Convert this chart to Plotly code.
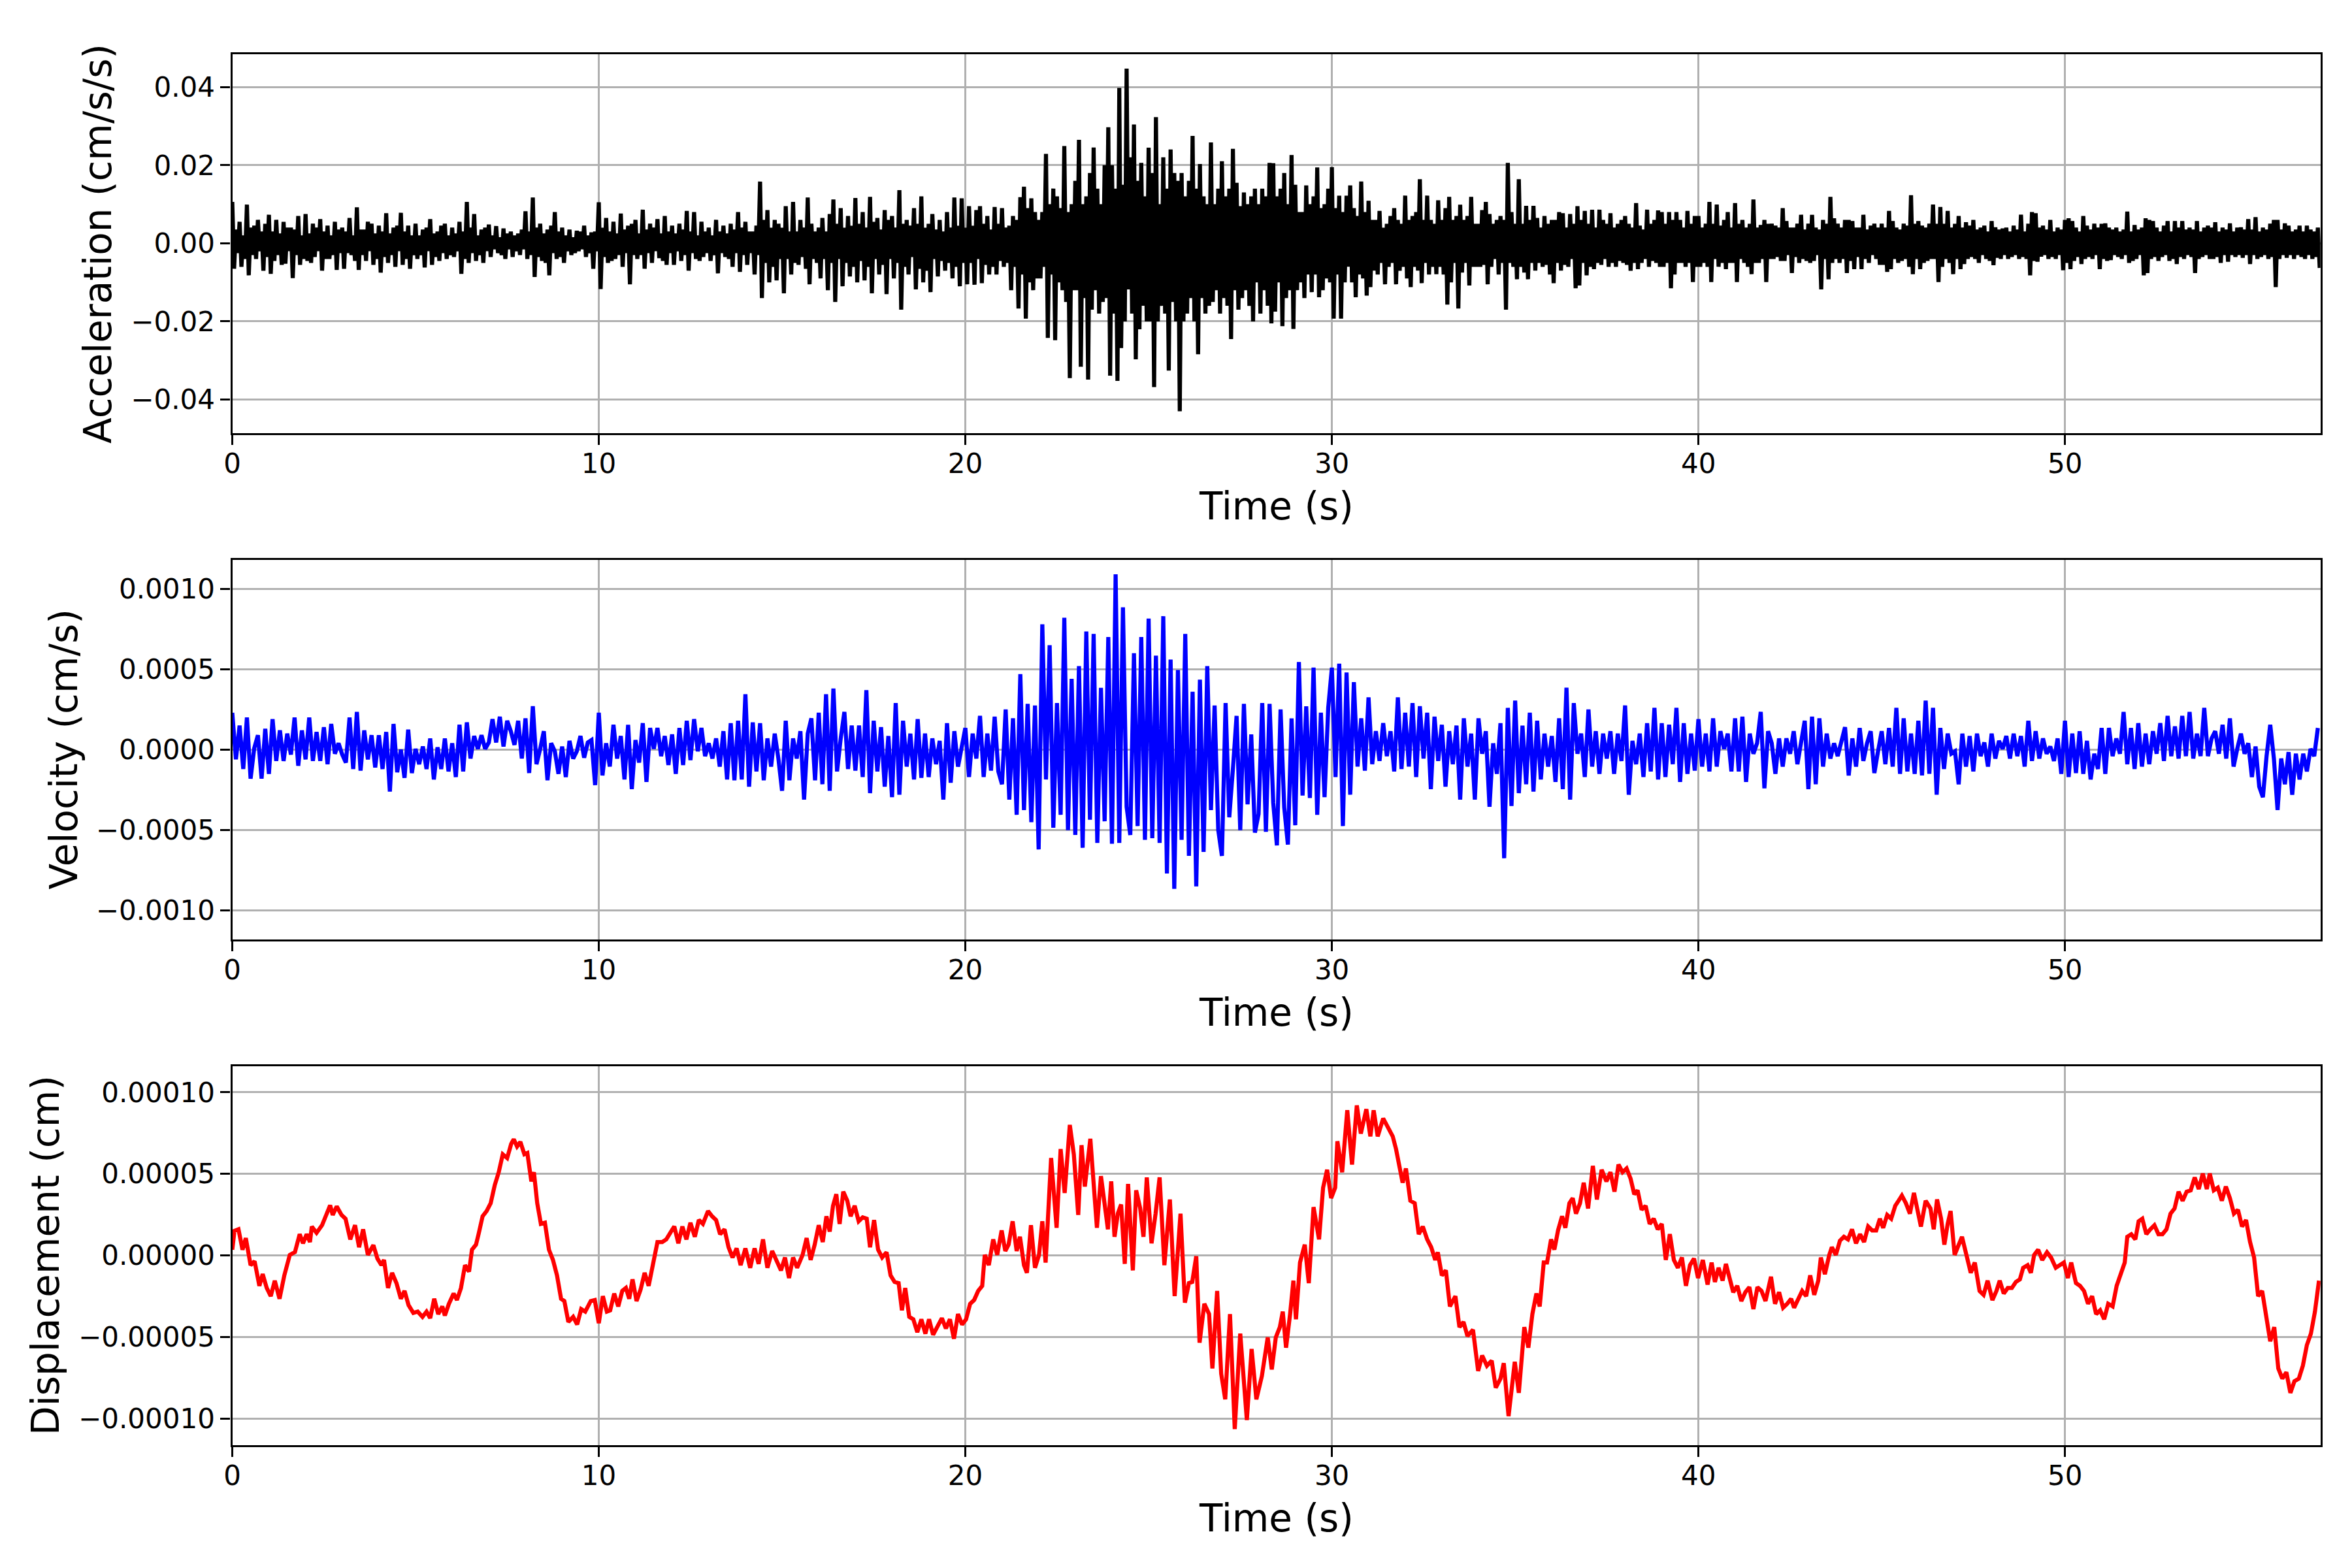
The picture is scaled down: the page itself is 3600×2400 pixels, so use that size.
import numpy as np
import plotly.graph_objects as go

# --- data ---
DT_ACC = 0.05  # s, spacing of the acceleration samples
DT_VEL = 0.1   # s, spacing of the velocity samples

# acceleration, units of 1e-3 cm/s/s, one line per second
acc_milli = [
    10.6, -6.5, 3.5, -2.5, 5.5, -6.0, 2.0, -4.0, 9.9, -8.2, 4.0, -3.0, 4.5, -4.0, 6.0, -2.0, 3.0, -7.0, 5.0, -3.5,
    7.3, -7.8, 3.0, -4.5, 6.0, -3.0, 2.5, -5.5, 5.5, -5.2, 4.0, -2.0, 4.0, -8.9, 3.5, -3.0, 7.0, -5.5, 2.0, -4.0,
    7.5, -4.5, 2.5, -5.0, 5.0, -3.5, 4.0, -2.0, 6.2, -7.0, 3.0, -4.0, 4.5, -4.0, 2.0, -3.0, 5.5, -6.8, 3.5, -2.5,
    4.0, -6.5, 3.0, -2.5, 6.5, -3.0, 2.0, -4.5, 9.2, -6.8, 3.5, -3.0, 3.5, -4.5, 5.5, -2.0, 5.0, -5.5, 2.5, -4.0,
    4.5, -7.5, 3.0, -3.5, 7.7, -5.0, 2.5, -3.0, 4.0, -6.0, 4.5, -2.0, 7.8, -5.5, 3.0, -4.0, 4.5, -6.5, 2.0, -3.0,
    5.0, -4.0, 2.0, -3.0, 3.5, -6.2, 4.0, -2.0, 6.2, -5.5, 2.5, -3.5, 3.0, -4.5, 4.5, -2.5, 5.0, -4.0, 2.0, -3.0,
    4.0, -3.5, 2.5, -2.0, 5.5, -7.8, 3.0, -4.0, 10.6, -5.0, 4.0, -2.5, 7.5, -4.5, 2.0, -3.0, 3.5, -5.0, 4.0, -2.0,
    4.8, -3.5, 2.0, -1.5, 4.4, -2.5, 1.5, -3.0, 3.8, -4.0, 2.5, -1.5, 3.0, -3.5, 2.0, -2.0, 2.5, -3.0, 3.5, -1.5,
    8.2, -4.0, 3.0, -3.0, 11.7, -8.6, 4.0, -3.5, 5.0, -4.5, 2.5, -5.0, 3.5, -8.2, 4.5, -2.5, 8.0, -4.0, 3.0, -3.5,
    4.0, -5.0, 2.0, -2.0, 3.5, -3.0, 1.5, -2.5, 3.2, -2.0, 3.0, -1.5, 4.5, -3.5, 2.0, -2.5, 2.8, -6.5, 3.0, -2.0,
    10.5, -11.7, 4.0, -3.5, 6.5, -5.0, 3.0, -4.5, 5.5, -4.0, 2.5, -3.0, 7.6, -6.0, 3.5, -2.5, 4.5, -10.5, 5.0, -3.0,
    6.0, -4.0, 2.5, -3.0, 8.6, -6.5, 3.5, -2.5, 5.0, -5.0, 4.0, -2.0, 6.2, -3.8, 2.5, -4.5, 7.0, -5.5, 3.0, -2.5,
    4.5, -5.5, 2.5, -2.0, 5.0, -4.5, 3.5, -3.0, 8.3, -7.0, 3.0, -2.5, 8.0, -4.0, 2.0, -4.5, 5.5, -3.5, 3.0, -2.5,
    4.0, -4.5, 2.0, -3.0, 6.0, -7.7, 3.0, -2.5, 4.5, -3.5, 2.5, -4.0, 5.0, -6.0, 3.5, -2.5, 8.0, -7.3, 4.0, -3.0,
    5.5, -5.5, 3.0, -2.5, 3.0, -8.0, 4.5, -3.0, 15.8, -14.0, 6.0, -5.0, 8.5, -10.0, 4.0, -6.0, 6.0, -9.5, 5.0, -4.0,
    4.0, -12.8, 9.5, -4.0, 3.0, -8.0, 10.6, -5.0, 3.0, -5.5, 6.0, -3.5, 4.0, -6.5, 11.7, -10.5, 5.0, -4.0, 3.0, -5.0,
    4.0, -9.0, 6.5, -4.0, 3.0, -12.0, 7.5, -5.0, 11.2, -15.0, 5.0, -4.0, 9.0, -11.0, 4.0, -5.0, 7.0, -8.5, 4.5, -6.0,
    11.6, -10.0, 5.0, -4.5, 8.0, -9.5, 4.0, -6.0, 11.9, -12.8, 5.5, -4.0, 6.5, -8.0, 3.5, -5.5, 8.5, -13.0, 6.0, -4.0,
    7.0, -9.0, 4.0, -5.0, 13.6, -17.0, 5.0, -6.0, 6.0, -8.0, 4.5, -3.5, 9.0, -11.8, 5.0, -6.5, 12.0, -10.0, 4.0, -7.0,
    5.0, -12.5, 7.5, -4.0, 3.5, -8.5, 6.0, -4.5, 3.0, -7.0, 8.0, -5.0, 4.0, -9.0, 11.7, -6.0, 4.5, -11.0, 11.5, -5.0,
    4.0, -10.5, 9.5, -5.0, 4.5, -10.6, 8.5, -4.0, 9.5, -10.2, 5.0, -5.5, 7.0, -8.0, 3.5, -6.0, 9.3, -8.0, 5.0, -4.5,
    9.0, -6.0, 4.0, -5.0, 4.5, -12.0, 7.0, -6.0, 6.0, -16.7, 11.8, -8.0, 14.5, -19.3, 9.0, -10.0, 11.5, -12.0, 8.0, -9.0,
    6.0, -9.0, 8.0, -6.0, 22.9, -24.2, 10.0, -8.0, 14.0, -24.8, 12.0, -10.0, 9.0, -12.0, 24.9, -15.0, 8.0, -34.5, 10.0, -12.0,
    16.0, -12.0, 26.5, -31.6, 10.0, -14.0, 12.0, -34.9, 18.0, -17.0, 24.5, -12.0, 14.0, -18.0, 10.0, -15.0, 20.0, -14.0, 29.7, -33.9,
    20.0, -18.0, 14.0, -35.2, 39.8, -26.8, 15.0, -20.0, 44.7, -11.8, 22.0, -18.0, 30.4, -29.7, 16.0, -22.0, 20.6, -16.0, 12.0, -20.0,
    24.5, -20.0, 18.0, -36.8, 32.3, -20.0, 10.0, -16.0, 22.0, -18.0, 14.0, -32.6, 24.0, -15.0, 18.0, -20.0, 16.0, -43.0, 18.0, -20.0,
    12.0, -18.0, 16.0, -14.0, 27.5, -20.0, 14.0, -28.4, 20.3, -14.0, 12.0, -18.0, 10.0, -16.0, 25.8, -15.0, 10.0, -12.0, 14.0, -18.0,
    21.0, -14.0, 12.0, -16.0, 14.0, -24.5, 24.2, -12.0, 15.5, -17.0, 9.5, -14.0, 13.0, -12.0, 10.0, -16.0, 12.0, -20.0, 14.0, -10.0,
    10.0, -18.0, 14.0, -12.0, 12.0, -16.0, 20.6, -20.5, 20.5, -17.5, 12.0, -10.0, 14.0, -21.2, 18.0, -14.0, 10.0, -12.0, 22.6, -21.9,
    15.0, -12.0, 8.0, -10.0, 8.0, -14.0, 14.8, -8.0, 10.0, -12.5, 12.0, -8.0, 19.4, -13.8, 9.0, -12.0, 10.0, -9.0, 14.0, -10.0,
    19.5, -19.3, 9.0, -8.0, 12.2, -19.3, 8.0, -10.0, 12.2, -6.0, 14.8, -10.0, 9.0, -13.8, 7.0, -8.0, 15.8, -9.0, 8.0, -13.4,
    10.9, -11.2, 6.0, -7.0, 6.0, -8.0, 8.3, -5.0, 4.0, -10.5, 5.0, -6.0, 7.0, -5.0, 9.0, -10.5, 6.0, -7.0, 5.0, -6.0,
    12.2, -9.0, 6.0, -11.2, 7.0, -6.0, 8.0, -7.0, 16.4, -10.2, 6.0, -5.0, 12.2, -8.0, 6.0, -6.0, 5.0, -7.9, 11.0, -6.0,
    6.0, -8.0, 9.0, -15.7, 11.9, -10.0, 6.0, -5.0, 7.0, -16.7, 9.9, -7.5, 6.0, -5.0, 7.0, -10.8, 11.9, -6.0, 5.0, -6.0,
    5.0, -6.0, 8.5, -5.5, 10.6, -10.5, 7.5, -6.0, 5.0, -4.0, 6.0, -8.0, 7.0, -5.0, 6.0, -17.0, 20.6, -5.0, 8.0, -6.0,
    5.0, -9.2, 16.4, -6.0, 5.0, -7.5, 9.6, -9.2, 6.0, -5.0, 9.6, -7.0, 6.5, -5.0, 4.0, -6.0, 7.0, -5.5, 5.0, -8.0,
    6.0, -10.2, 6.0, -5.0, 8.0, -7.0, 7.7, -5.5, 4.0, -6.0, 7.5, -4.0, 5.0, -11.5, 9.5, -10.8, 6.0, -5.0, 8.3, -8.2,
    5.0, -6.0, 8.6, -6.6, 4.0, -5.0, 8.6, -5.5, 6.0, -4.0, 5.0, -6.0, 7.7, -5.0, 4.0, -6.0, 5.0, -4.5, 6.0, -5.0,
    7.0, -5.5, 5.0, -7.0, 4.0, -5.0, 10.3, -6.6, 4.5, -5.0, 3.5, -4.0, 8.6, -6.0, 5.0, -4.5, 6.0, -5.0, 8.4, -6.0,
    8.0, -6.0, 5.0, -5.0, 8.0, -11.5, 6.0, -8.0, 8.0, -5.0, 6.0, -5.0, 4.0, -6.0, 8.3, -5.0, 5.0, -9.9, 7.0, -6.0,
    7.0, -6.0, 4.0, -5.0, 5.0, -6.0, 10.6, -9.9, 5.0, -4.0, 9.9, -6.0, 4.5, -5.0, 6.0, -6.6, 8.0, -5.0, 4.0, -5.0,
    10.3, -9.9, 5.0, -4.0, 6.0, -5.0, 4.0, -6.0, 5.0, -7.9, 11.2, -5.0, 4.0, -5.0, 4.7, -4.0, 6.0, -9.9, 5.0, -4.0,
    5.0, -4.0, 4.5, -3.5, 4.0, -4.5, 9.0, -4.5, 5.7, -3.0, 4.0, -7.6, 4.0, -3.5, 5.0, -5.0, 7.3, -4.0, 3.5, -4.5,
    5.0, -5.0, 7.3, -4.5, 4.0, -3.0, 3.5, -11.8, 6.0, -4.0, 5.0, -9.2, 11.9, -5.0, 6.4, -4.0, 5.0, -5.0, 4.0, -4.0,
    6.0, -7.6, 6.0, -4.5, 5.7, -6.6, 4.0, -3.5, 4.0, -6.6, 7.3, -4.0, 3.5, -5.0, 4.5, -3.0, 5.0, -4.0, 4.0, -5.5,
    5.0, -5.5, 4.0, -7.3, 8.3, -6.6, 5.7, -4.0, 4.0, -5.0, 3.5, -4.5, 5.0, -4.0, 4.5, -6.0, 12.3, -7.9, 5.0, -4.0,
    5.7, -6.6, 4.5, -5.0, 4.0, -4.5, 5.0, -4.0, 9.9, -4.0, 5.0, -9.9, 9.3, -6.0, 5.0, -4.0, 8.3, -5.0, 4.0, -7.9,
    5.0, -4.0, 7.0, -6.6, 4.0, -5.3, 5.4, -4.0, 4.5, -3.5, 6.0, -4.0, 3.5, -5.0, 4.0, -3.0, 4.5, -4.0, 3.0, -4.5,
    5.7, -5.6, 4.1, -3.7, 3.5, -4.0, 3.8, -3.0, 4.0, -4.0, 3.0, -3.5, 4.5, -3.0, 3.5, -4.0, 7.3, -3.5, 3.0, -4.0,
    5.0, -8.2, 8.0, -4.5, 7.7, -4.7, 4.0, -3.4, 4.5, -3.0, 3.5, -4.0, 6.0, -3.5, 3.0, -4.0, 4.0, -3.0, 3.5, -6.9,
    6.0, -5.0, 6.4, -6.6, 5.7, -4.5, 4.0, -3.5, 3.0, -5.3, 7.0, -4.0, 4.5, -3.5, 3.5, -4.0, 5.0, -3.0, 4.0, -6.6,
    5.0, -4.0, 5.1, -4.5, 4.0, -4.3, 3.5, -3.0, 4.0, -3.5, 3.0, -4.0, 3.5, -3.0, 8.1, -5.0, 3.0, -4.5, 4.7, -4.0,
    3.5, -3.0, 4.0, -8.2, 6.4, -7.6, 6.0, -4.0, 5.7, -3.5, 4.0, -4.5, 3.0, -3.5, 4.5, -3.0, 5.7, -4.5, 3.0, -4.0,
    5.7, -5.3, 4.0, -3.5, 5.7, -4.0, 3.5, -3.0, 4.0, -3.5, 3.5, -7.6, 5.7, -4.0, 3.0, -3.5, 4.0, -3.0, 4.5, -4.0,
    4.0, -4.0, 5.4, -3.5, 3.0, -5.0, 4.0, -3.0, 3.5, -4.7, 5.1, -3.0, 3.0, -3.5, 4.0, -3.0, 4.1, -3.7, 3.5, -3.0,
    6.2, -5.3, 3.5, -3.0, 6.7, -4.0, 3.0, -3.5, 4.0, -3.0, 3.5, -4.0, 5.0, -3.5, 6.0, -11.2, 6.0, -4.0, 3.5, -3.0,
    5.1, -3.7, 4.5, -3.0, 3.0, -4.0, 3.5, -3.0, 4.5, -3.5, 3.0, -4.0, 4.5, -3.0, 3.5, -4.0, 3.0, -3.5, 4.0, -6.3,
]

# velocity, units of 1e-4 cm/s, one line per second
vel_e4 = [
    2.3, -0.6, 1.5, -1.2, 2.0, -1.8, 0.1, 0.9, -1.8, 1.3,
    -1.5, 1.9, -0.7, 1.2, -0.7, 1.0, -0.3, 2.0, -1.0, 1.2,
    -0.6, 2.0, -0.7, 1.1, -0.7, 1.4, -0.9, 1.6, -0.25, 0.4,
    -0.3, -0.8, 2.0, -1.2, 2.35, -1.3, 1.2, -0.6, 0.9, -1.1,
    0.9, -1.2, 1.1, -2.6, 1.6, -1.4, 0.0, -1.75, 1.25, -1.45,
    0.05, -0.9, 0.2, -1.2, 0.7, -1.85, 0.15, -1.2, 0.7, -1.35,
    0.4, -1.7, 1.55, -1.35, 1.7, -0.55, 0.85, 0.05, 0.9, 0.05,
    0.45, 1.9, 0.45, 2.05, 0.2, 1.8, 1.15, 0.3, 1.8, -0.55,
    1.95, -1.45, 2.7, -0.9, 0.05, 1.15, -1.9, 0.4, -0.1, -1.5,
    0.2, -1.7, 0.55, -0.55, -0.1, 0.85, -0.5, 0.45, 0.6, -2.2,
    2.3, -1.6, 0.4, -1.05, 1.55, -0.55, 0.85, -1.85, 1.55, -2.45,
    0.6, -0.8, 1.65, -2.0, 1.35, 0.05, 1.35, -0.4, 0.85, -0.95,
    0.95, -1.5, 1.35, -0.95, 1.8, -0.65, 1.9, -0.1, 1.35, -0.4,
    0.4, -0.55, 0.7, -1.05, 1.15, -1.85, 1.65, -1.9, 1.8, -1.85,
    3.45, -2.3, 1.7, -1.35, 1.65, -1.9, 0.7, -1.05, 1.0, -0.55,
    -2.55, 1.8, -1.9, 0.7, -0.55, 1.15, -3.1, 1.0, 1.95, -1.9,
    2.3, -2.15, 3.45, -2.55, 3.8, -1.35, 0.7, 2.35, -1.2, 1.5,
    -1.3, 1.5, -1.7, 3.7, -2.7, 1.8, -1.35, 1.4, -2.3, 0.85,
    -2.95, 2.9, -2.8, 1.8, -1.05, 1.0, -1.85, 1.9, -1.75, 1.0,
    -1.7, 0.7, -0.9, 0.55, -3.1, 1.65, -2.05, 1.15, -1.05, 0.05,
    1.35, -1.7, 1.0, -0.55, 2.1, -1.7, 1.0, -1.3, 2.05, -1.35,
    -2.15, 2.5, -3.1, 1.95, -4.05, 4.7, -3.75, 2.85, -4.5, 2.75,
    -6.2, 7.8, -1.85, 6.5, -4.85, 2.9, -4.05, 8.2, -5.0, 4.4,
    -5.3, 5.2, -6.1, 7.35, -4.35, 7.2, -5.8, 3.85, -4.45, 7.0,
    -5.85, 10.9, -5.8, 8.85, -3.55, -5.3, 6.0, -4.75, 7.0, -5.6,
    8.15, -5.5, 5.85, -5.8, 8.3, -7.7, 5.6, -8.65, 4.95, -5.6,
    7.2, -6.6, 3.6, -8.5, 4.35, -6.35, 5.2, -3.75, 2.75, -5.0,
    -6.6, 2.9, -4.2, -1.2, 2.1, -5.0, 2.85, -3.4, 0.95, -5.15,
    -4.0, 2.9, -5.1, 2.85, -3.3, -5.95, 2.5, -3.6, -5.9, 1.95,
    -4.7, 5.45, -2.85, 2.7, -3.0, 5.1, -4.05, 2.3, -2.95, 2.6,
    5.1, -1.7, 5.35, -4.75, 4.8, -2.8, 4.2, -1.05, 1.95, -1.3,
    3.25, -0.9, 1.15, -0.7, 1.65, -0.4, 1.15, -1.35, 3.25, -1.2,
    2.3, -1.05, 2.9, -1.7, 2.7, -0.55, 2.3, -2.45, 2.05, -0.7,
    1.55, -2.3, 1.15, -0.9, 1.5, -3.1, 1.95, -1.05, 1.0, -3.1,
    1.95, -0.25, 1.15, -3.55, 0.4, -1.5, 1.65, -6.75, 2.6, -3.5,
    3.05, -2.7, 1.5, -2.15, 2.3, -2.6, 1.8, -1.85, 1.0, -1.05,
    0.85, -2.0, 1.95, -2.45, 3.85, -3.1, 2.9, -0.25, 1.0, -1.7,
    2.5, -1.05, 1.15, -1.5, 1.0, -0.55, 1.15, -1.5, 1.0, -0.7,
    2.75, -2.8, 0.55, -0.9, 1.0, -1.7, 1.65, -1.35, 2.6, -1.85,
    1.65, -1.7, 1.55, -0.9, 2.6, -2.0, 1.65, -1.5, 1.0, -1.3,
    1.9, -1.05, 1.0, -1.35, 1.95, -1.05, 1.15, 0.05, 1.0, -1.35,
    1.95, -1.35, 2.05, -2.0, 1.0, -0.25, 0.4, 2.35, -2.4, 1.15,
    0.4, -1.5, 0.7, -1.05, 0.7, -0.25, 1.15, -0.9, 0.4, 1.8,
    -2.45, 2.05, -2.15, 1.95, -1.05, 1.0, -0.55, 0.4, -0.4, 0.4,
    1.4, -1.6, 0.7, -1.05, 1.35, -0.7, 0.4, 1.15, -1.45, -0.1,
    1.15, -0.9, 1.35, -1.05, 2.6, -1.5, 1.95, -1.35, 1.0, -1.5,
    1.8, -1.6, 3.05, -1.5, 2.6, -2.8, 1.35, -1.2, 1.0, -0.25,
    -0.1, -2.15, 1.0, -1.05, 0.85, -1.35, 1.0, -0.4, 0.45, -1.05,
    1.0, -0.55, 0.55, 0.05, 0.85, -0.55, 1.0, -0.4, 0.85, -1.05,
    1.8, -0.7, 1.15, -0.55, 0.7, -0.25, 0.2, -0.7, 0.7, -1.5,
    1.8, -1.7, 1.0, -1.45, 1.15, -1.5, 0.55, -1.85, -0.25, -1.2,
    1.35, -1.5, 1.35, -0.4, 0.7, -0.25, 2.35, -0.9, 1.35, -1.2,
    1.65, -1.05, 1.0, -0.9, 1.15, -0.25, 1.65, -0.7, 2.1, -0.4,
    1.45, -0.55, 2.1, -0.4, 2.35, -0.55, 1.0, -0.4, 2.6, -0.4,
    0.7, 1.15, -0.25, 1.55, -0.55, 1.95, -1.05, 0.05, 1.0, -0.25,
    0.4, -1.7, 0.2, -2.3, -2.95, -0.4, 1.55, -0.55, -3.75, -0.55,
    -2.15, -0.15, -2.8, -0.25, -1.85, -0.25, -1.35, 0.05, -0.4, 1.35,
]

# displacement: sample times (s) and values in units of 1e-5 cm
disp_t = [
    0.00, 0.06, 0.17, 0.28, 0.37, 0.50, 0.61, 0.74, 0.83, 0.94,
    1.05, 1.16, 1.29, 1.42, 1.57, 1.71, 1.84, 1.93, 2.03, 2.12,
    2.17, 2.30, 2.45, 2.58, 2.67, 2.74, 2.85, 2.98, 3.09, 3.22,
    3.35, 3.46, 3.57, 3.70, 3.85, 3.96, 4.07, 4.14, 4.25, 4.36,
    4.48, 4.60, 4.70, 4.81, 4.94, 5.06, 5.19, 5.30, 5.40, 5.51,
    5.62, 5.73, 5.80, 5.91, 6.04, 6.13, 6.24, 6.35, 6.46, 6.54,
    6.65, 6.72, 6.83, 6.94, 7.05, 7.16, 7.27, 7.38, 7.50, 7.61,
    7.68, 7.77, 7.86, 7.97, 8.05, 8.16, 8.23, 8.32, 8.42, 8.53,
    8.64, 8.75, 8.86, 8.97, 9.06, 9.17, 9.30, 9.41, 9.52, 9.63,
    9.78, 9.89, 10.00, 10.11, 10.22, 10.31, 10.42, 10.53, 10.64, 10.74,
    10.83, 10.92, 11.03, 11.14, 11.25, 11.36, 11.47, 11.60, 11.73, 11.84,
    11.97, 12.06, 12.17, 12.28, 12.39, 12.50, 12.62, 12.73, 12.84, 12.98,
    13.09, 13.20, 13.31, 13.43, 13.54, 13.65, 13.76, 13.87, 14.00, 14.13,
    14.25, 14.36, 14.48, 14.60, 14.73, 14.84, 14.97, 15.08, 15.19, 15.30,
    15.41, 15.56, 15.67, 15.78, 15.89, 16.00, 16.11, 16.21, 16.30, 16.39,
    16.48, 16.57, 16.67, 16.78, 16.87, 16.98, 17.09, 17.20, 17.31, 17.40,
    17.51, 17.62, 17.73, 17.85, 17.96, 18.07, 18.18, 18.27, 18.36, 18.47,
    18.58, 18.69, 18.80, 18.91, 19.01, 19.12, 19.24, 19.36, 19.47, 19.58,
    19.69, 19.80, 19.91, 20.02, 20.13, 20.24, 20.35, 20.46, 20.53, 20.64,
    20.76, 20.87, 20.99, 21.09, 21.18, 21.29, 21.40, 21.49, 21.60, 21.68,
    21.79, 21.90, 22.01, 22.10, 22.19, 22.34, 22.49, 22.60, 22.71, 22.85,
    22.96, 23.08, 23.17, 23.26, 23.41, 23.48, 23.59, 23.70, 23.81, 23.89,
    23.98, 24.07, 24.16, 24.25, 24.35, 24.44, 24.57, 24.66, 24.77, 24.86,
    24.95, 25.08, 25.19, 25.30, 25.43, 25.58, 25.71, 25.87, 25.99, 26.10,
    26.19, 26.30, 26.39, 26.52, 26.65, 26.74, 26.87, 26.98, 27.09, 27.22,
    27.35, 27.50, 27.68, 27.81, 27.94, 28.09, 28.25, 28.36, 28.47, 28.58,
    28.66, 28.75, 28.86, 28.95, 29.02, 29.13, 29.26, 29.37, 29.50, 29.65,
    29.76, 29.87, 29.98, 30.09, 30.15, 30.28, 30.42, 30.55, 30.68, 30.79,
    30.94, 31.05, 31.14, 31.25, 31.40, 31.53, 31.66, 31.75, 31.86, 31.93,
    32.02, 32.14, 32.26, 32.37, 32.48, 32.60, 32.71, 32.82, 32.89, 33.00,
    33.11, 33.22, 33.37, 33.48, 33.59, 33.70, 33.85, 33.99, 34.10, 34.23,
    34.36, 34.47, 34.60, 34.69, 34.82, 34.99, 35.10, 35.25, 35.36, 35.47,
    35.58, 35.67, 35.78, 35.87, 35.98, 36.07, 36.17, 36.28, 36.37, 36.48,
    36.57, 36.66, 36.77, 36.87, 36.99, 37.12, 37.23, 37.36, 37.49, 37.60,
    37.71, 37.82, 37.93, 38.04, 38.15, 38.25, 38.34, 38.45, 38.56, 38.67,
    38.78, 38.89, 39.00, 39.11, 39.22, 39.33, 39.44, 39.55, 39.66, 39.77,
    39.88, 39.99, 40.12, 40.25, 40.36, 40.45, 40.55, 40.66, 40.75, 40.86,
    40.95, 41.06, 41.17, 41.28, 41.39, 41.50, 41.61, 41.72, 41.83, 41.98,
    42.09, 42.20, 42.31, 42.42, 42.53, 42.61, 42.72, 42.83, 42.94, 43.05,
    43.16, 43.27, 43.34, 43.45, 43.57, 43.64, 43.75, 43.86, 43.97, 44.08,
    44.19, 44.30, 44.41, 44.52, 44.63, 44.74, 44.85, 44.95, 45.04, 45.15,
    45.26, 45.37, 45.46, 45.55, 45.66, 45.77, 45.88, 45.98, 46.07, 46.20,
    46.33, 46.42, 46.51, 46.62, 46.71, 46.80, 46.88, 46.99, 47.10, 47.19,
    47.32, 47.43, 47.54, 47.67, 47.78, 47.89, 48.02, 48.13, 48.22, 48.33,
    48.44, 48.55, 48.66, 48.77, 48.86, 48.98, 49.07, 49.16, 49.27, 49.38,
    49.51, 49.62, 49.75, 49.86, 49.97, 50.08, 50.17, 50.30, 50.41, 50.52,
    50.63, 50.74, 50.85, 50.96, 51.07, 51.18, 51.30, 51.41, 51.52, 51.63,
    51.70, 51.81, 51.92, 52.01, 52.11, 52.22, 52.33, 52.44, 52.55, 52.66,
    52.77, 52.88, 52.99, 53.10, 53.21, 53.32, 53.43, 53.54, 53.65, 53.76,
    53.87, 53.95, 54.06, 54.17, 54.28, 54.39, 54.50, 54.61, 54.72, 54.83,
    54.94, 55.05, 55.16, 55.27, 55.38, 55.49, 55.60, 55.71, 55.82, 55.93,
    56.04, 56.15, 56.26, 56.38, 56.49, 56.60, 56.71, 56.82, 56.93,
]
disp_e5 = [
    0.35, 1.5, 1.6, 0.35, 1.06, -0.6, -0.36, -1.87, -1.15, -2.0,
    -2.5, -1.55, -2.66, -1.23, 0.03, 0.2, 1.3, 0.74, 1.3, 0.82,
    1.77, 1.38, 1.85, 2.56, 3.07, 2.48, 3.0, 2.48, 2.25, 0.98,
    1.85, 0.5, 1.6, 0.03, 0.63, -0.2, -0.6, -0.28, -2.0, -1.07,
    -1.7, -2.66, -2.18, -3.05, -3.53, -3.45, -3.77, -3.45, -3.85, -2.66,
    -3.6, -3.13, -3.69, -2.97, -2.34, -2.74, -2.0, -0.6, -1.0, 0.35,
    0.66, 1.3, 2.4, 2.72, 3.2, 4.3, 5.1, 6.2, 5.97, 6.84,
    7.12, 6.68, 6.96, 6.2, 6.28, 4.54, 5.1, 3.2, 1.93, 2.0,
    0.35, -0.28, -1.23, -2.66, -2.8, -4.08, -3.77, -4.24, -3.29, -3.45,
    -2.8, -2.74, -4.16, -2.5, -3.45, -3.37, -2.34, -3.13, -2.18, -2.0,
    -2.66, -1.47, -2.8, -2.1, -1.07, -1.87, -0.6, 0.82, 0.82, 0.98,
    1.46, 1.77, 0.74, 1.77, 0.98, 2.0, 1.14, 2.17, 1.93, 2.72,
    2.4, 2.17, 1.3, 1.6, 0.5, -0.13, 0.43, -0.6, 0.43, -0.76,
    0.43, -0.52, 0.98, -0.76, 0.27, -0.28, -0.92, -0.13, -1.39, -0.13,
    -0.76, 0.03, 1.06, -0.28, 0.66, 1.85, 0.82, 2.4, 1.46, 3.04,
    3.75, 1.93, 3.91, 3.35, 2.4, 3.04, 2.09, 2.33, 2.25, 0.5,
    2.17, 0.35, -0.13, 0.19, -1.23, -1.63, -1.7, -3.37, -2.0, -3.77,
    -3.92, -4.71, -3.92, -4.8, -3.92, -4.87, -4.4, -3.85, -4.48, -3.92,
    -5.11, -3.6, -4.24, -3.92, -2.97, -2.74, -2.18, -1.87, 0.03, -0.6,
    0.98, 0.03, 1.53, 0.27, 0.66, 2.09, 0.27, 1.14, -0.6, -1.07,
    1.85, -0.76, 0.03, 2.09, -0.44, 5.97, 1.69, 6.52, 3.83, 8.0,
    6.2, 2.48, 6.76, 4.22, 7.15, 4.94, 1.69, 4.86, 3.2, 1.6,
    4.54, 1.14, 2.56, 3.12, -0.52, 4.38, -0.92, 3.99, 2.88, 1.14,
    4.78, 0.74, 2.56, 4.78, -0.6, 3.43, -2.5, 2.56, -2.9, -1.7,
    -1.63, -0.05, -5.35, -2.97, -3.6, -6.93, -2.18, -7.25, -8.83, -3.6,
    -10.65, -4.8, -10.1, -5.74, -8.83, -7.4, -5.03, -7.0, -5.03, -4.4,
    -3.45, -5.66, -3.6, -1.55, -3.92, -0.44, 0.66, -1.7, 2.96, 0.98,
    4.15, 5.25, 3.51, 4.15, 7.0, 5.1, 8.9, 5.57, 9.2, 7.47,
    8.97, 7.3, 8.9, 7.3, 8.4, 7.86, 7.3, 6.52, 5.1, 4.46,
    5.33, 3.35, 3.2, 1.3, 1.77, 0.98, 0.5, -0.28, 0.19, -1.23,
    -0.92, -3.13, -2.5, -4.4, -4.08, -4.95, -4.56, -7.09, -6.14, -6.77,
    -6.46, -8.12, -7.56, -6.61, -9.86, -6.53, -8.43, -4.4, -5.66, -3.6,
    -2.34, -3.13, -0.44, -0.44, 0.98, 0.35, 1.53, 2.4, 1.69, 3.2,
    3.51, 2.56, 3.2, 4.46, 2.88, 5.49, 3.43, 5.25, 4.54, 5.1,
    3.91, 5.57, 5.1, 5.33, 4.7, 3.75, 3.99, 2.8, 3.04, 1.93,
    2.25, 1.6, 1.93, -0.28, 1.3, -0.28, -0.76, -0.13, -1.87, -0.6,
    -0.2, -1.39, -0.28, -1.79, -0.44, -1.63, -0.76, -1.55, -0.52, -1.55,
    -2.26, -1.87, -2.8, -2.26, -1.95, -3.29, -1.95, -2.18, -2.8, -1.31,
    -2.97, -2.26, -3.21, -2.97, -2.66, -3.21, -2.66, -2.18, -2.5, -1.23,
    -2.42, -1.55, -0.13, -1.15, 0.03, 0.5, 0.03, 0.9, 1.14, 0.98,
    1.6, 0.74, 1.3, 0.82, 1.77, 1.53, 1.53, 2.25, 1.69, 2.48,
    2.25, 3.04, 3.35, 3.67, 3.2, 2.56, 3.83, 2.72, 1.77, 3.35,
    2.88, 1.6, 3.43, 2.25, 0.66, 1.93, 2.72, 0.03, 0.66, 1.14,
    -0.05, -1.07, -0.44, -2.18, -2.42, -1.55, -2.74, -2.18, -1.55, -2.34,
    -2.0, -2.0, -1.63, -1.47, -0.76, -0.6, -1.07, 0.03, 0.35, -0.28,
    0.19, -0.13, -0.76, -0.6, -0.44, -1.39, -0.44, -1.7, -1.87, -2.18,
    -2.97, -2.5, -3.6, -3.37, -3.92, -2.97, -3.13, -1.87, -1.23, -0.44,
    1.14, 1.3, 0.98, 2.09, 2.25, 1.3, 1.6, 1.85, 1.3, 1.3,
    1.6, 2.56, 2.88, 3.91, 3.35, 3.91, 3.99, 4.78, 4.07, 5.02,
    4.07, 5.02, 3.99, 4.15, 3.35, 4.22, 3.51, 2.56, 2.8, 1.77,
    2.17, 0.82, -0.13, -2.5, -2.18, -3.6, -5.27, -4.4, -6.93, -7.56,
    -7.17, -8.43, -7.72, -7.56, -6.77, -5.5, -4.8, -3.45, -1.55,
]

x_ticks = [0, 10, 20, 30, 40, 50]
acc_ticks = [0.04, 0.02, 0.0, -0.02, -0.04]
acc_labels = ["0.04", "0.02", "0.00", "\u22120.02", "\u22120.04"]
vel_ticks = [0.001, 0.0005, 0.0, -0.0005, -0.001]
vel_labels = ["0.0010", "0.0005", "0.0000", "\u22120.0005", "\u22120.0010"]
disp_ticks = [0.0001, 0.00005, 0.0, -0.00005, -0.0001]
disp_labels = ["0.00010", "0.00005", "0.00000", "\u22120.00005", "\u22120.00010"]

# --- figure ---
W, H = 3600, 2400
OFF = 8            # the page body adds an 8 px offset to the plot div
FONT = "DejaVu Sans"
LW = 6.25          # 1.5 pt at 300 dpi
AX_LW = 3.3        # 0.8 pt

t_acc = np.arange(len(acc_milli)) * DT_ACC
t_vel = np.arange(len(vel_e4)) * DT_VEL
acc = np.array(acc_milli) * 1e-3
vel = np.array(vel_e4) * 1e-4
disp = np.array(disp_e5) * 1e-5

fig = go.Figure()
fig.add_trace(go.Scatter(x=t_acc, y=acc, mode="lines", line=dict(color="black", width=LW),
                         xaxis="x", yaxis="y", showlegend=False))
fig.add_trace(go.Scatter(x=t_vel, y=vel, mode="lines", line=dict(color="blue", width=LW),
                         xaxis="x2", yaxis="y2", showlegend=False))
fig.add_trace(go.Scatter(x=disp_t, y=disp, mode="lines", line=dict(color="red", width=LW),
                         xaxis="x3", yaxis="y3", showlegend=False))

def px_x(x):
    return (x - OFF) / W

def px_y(y):
    return 1 - (y - OFF) / H

x_dom = [px_x(355.5), px_x(3551.7)]
panels = [  # (top px, bottom px) as seen in the reference
    (83, 663),
    (857, 1438),
    (1632, 2212),
]
y_doms = [[px_y(b), px_y(t)] for t, b in panels]

common = dict(
    showline=True, linecolor="black", linewidth=AX_LW, mirror=True,
    ticks="outside", ticklen=15, tickwidth=AX_LW, tickcolor="black",
    showgrid=True, gridcolor="#b0b0b0", gridwidth=AX_LW, zeroline=False,
    automargin=False,
    tickfont=dict(family=FONT, size=42, color="black"),
)

y_specs = [
    ([-0.0486, 0.0484], acc_ticks, acc_labels),
    ([-0.00118, 0.00118], vel_ticks, vel_labels),
    ([-0.0001164, 0.000116], disp_ticks, disp_labels),
]

layout = dict(
    width=W, height=H, paper_bgcolor="white", plot_bgcolor="white",
    margin=dict(l=0, r=0, t=0, b=0, pad=0), font=dict(family=FONT, color="black"),
)
for i, (ydom, (yr, yt, yl)) in enumerate(zip(y_doms, y_specs), start=1):
    sfx = "" if i == 1 else str(i)
    layout["xaxis" + sfx] = dict(common, domain=x_dom, range=[0, 56.97], anchor="y" + sfx,
                                 tickvals=x_ticks, ticktext=[str(v) for v in x_ticks],
                                 ticklabelstandoff=-8)
    layout["yaxis" + sfx] = dict(common, domain=ydom, range=yr, anchor="x" + sfx,
                                 tickvals=yt, ticktext=yl)
fig.update_layout(**layout)

# axis titles placed like the matplotlib ones
xc = (x_dom[0] + x_dom[1]) / 2
y_titles = ["Acceleration (cm/s/s)", "Velocity (cm/s)", "Displacement (cm)"]
y_title_x = [150, 97, 70]
for (top, bot), ttl, tx in zip(panels, y_titles, y_title_x):
    fig.add_annotation(text="Time (s)", xref="paper", yref="paper", x=xc, y=px_y(bot + 112),
                       xanchor="center", yanchor="middle", showarrow=False,
                       font=dict(family=FONT, size=58, color="black"))
    fig.add_annotation(text=ttl, xref="paper", yref="paper", x=px_x(tx), y=px_y((top + bot) / 2),
                       xanchor="center", yanchor="middle", textangle=-90, showarrow=False,
                       font=dict(family=FONT, size=58, color="black"))

fig.write_html("out.html")
